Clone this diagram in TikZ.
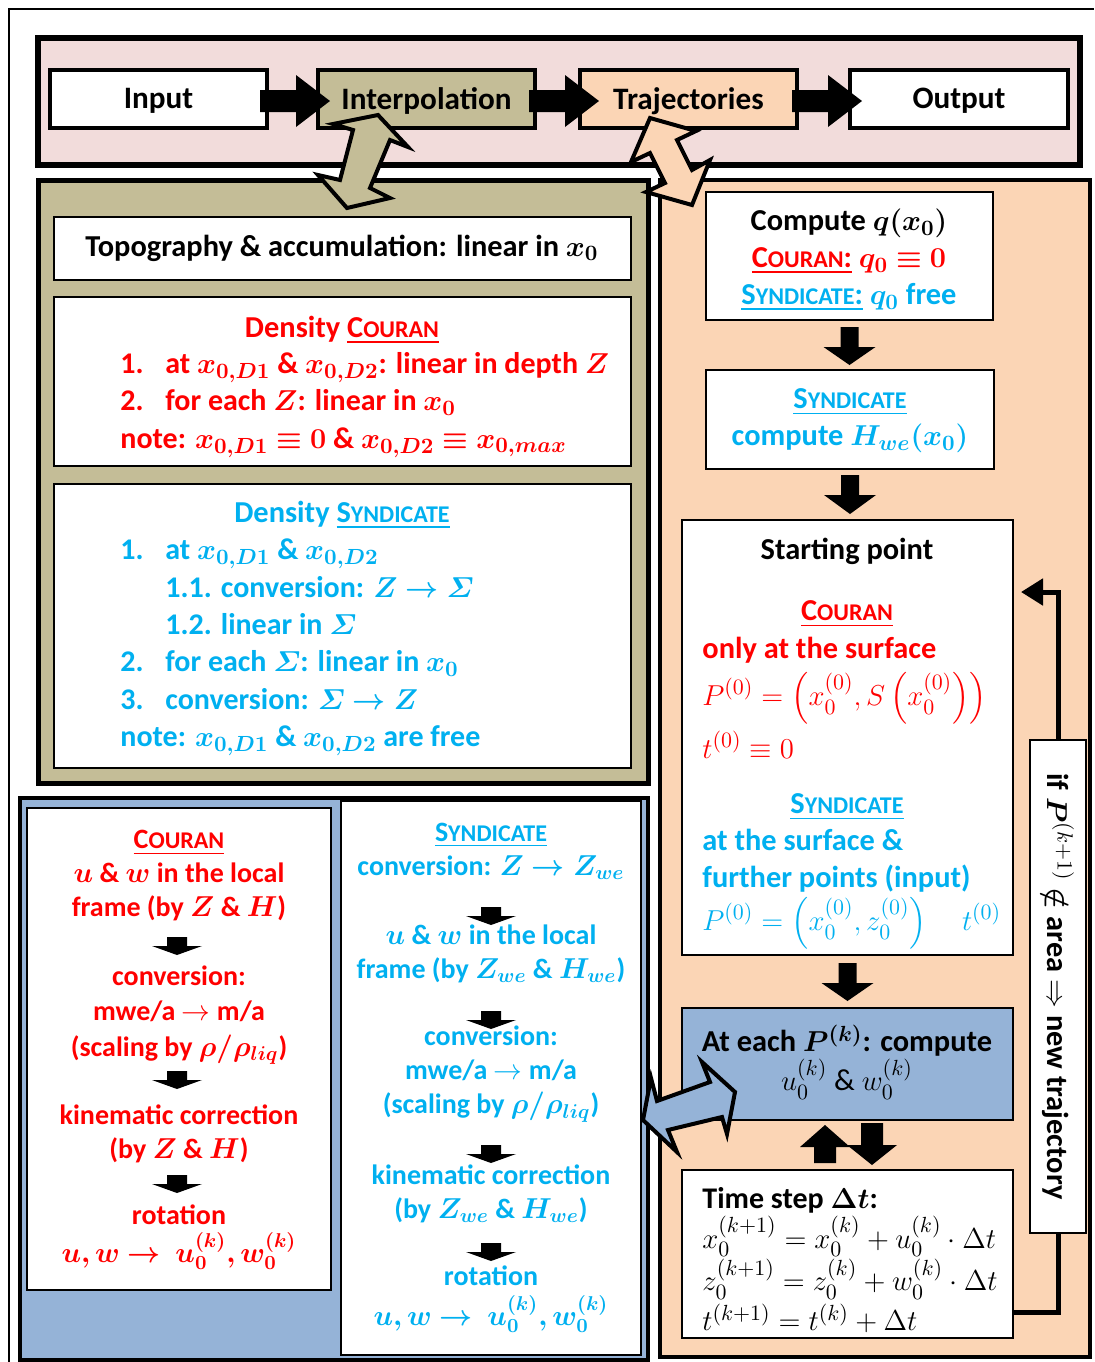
\documentclass[tikz,border=0pt]{standalone}
\usepackage{amsmath,bm}
\usepackage[no-math]{fontspec}
\setmainfont{Carlito}
\usetikzlibrary{fit,calc,arrows.meta}
\definecolor{couranred}{HTML}{FF0000}
\definecolor{syndblue}{HTML}{00B0F0}
\definecolor{bandpink}{HTML}{F2DCDB}
\definecolor{interpolive}{HTML}{C4BD97}
\definecolor{trajpeach}{HTML}{FBD5B5}
\definecolor{velblue}{HTML}{95B3D7}
\newcommand\bodysize{\fontsize{15.2}{18.5}\selectfont}
\newcommand\listsize{\fontsize{15}{18.7}\selectfont}
\newcommand\flowsize{\fontsize{14}{17}\selectfont}
\newcommand\scx[1]{{\fontsize{12}{14}\selectfont #1}}
\newcommand\couranname{C\scx{OURAN}}
\newcommand\syndname{S\scx{YNDICATE}}
\tikzset{
  pics/blockarrow/.style args={#1/#2/#3/#4}{code={
    \fill[black] (-#1,0) -- (#1,0) -- (#1,#3) -- (#2,#3) -- (0,#3+#4)
      -- (-#2,#3) -- (-#1,#3) -- cycle;
  }}
}
\begin{document}
\begin{tikzpicture}[x=0.5pt, y=-0.5pt,
    panel/.style={draw, line width=2.5pt, inner sep=0pt},
    wbox/.style={draw, line width=1pt, fill=white, inner sep=0pt},
    topbox/.style={draw, line width=2pt, inner sep=0pt},
    toplbl/.style={font=\fontsize{15.6}{18}\selectfont\bfseries, inner sep=0pt},
    txt/.style={font=\bodysize\bfseries, align=center, inner sep=0pt},
    ltxt/.style={txt, align=left, anchor=west},
    flow/.style={font=\flowsize\bfseries, align=center, inner sep=0pt},
    cou/.style={text=couranred},
    syn/.style={text=syndblue},
    dblarrow/.style={draw, line width=2pt, line join=miter},
    loopline/.style={line width=2.5pt, line join=miter,
                     -{Triangle[length=11pt, width=13pt]}},
  ]
  \useasboundingbox (0,0) rectangle (1094,1362);
  \draw[line width=1.2pt] (9,1362) -- (9,9) -- (1094,9);

  % main sequence
  \node[panel, line width=3pt, fill=bandpink, fit={(38,38) (1080,165)}] (band) {};
  \node[topbox, fill=white,       fit={(50,70) (267,128)}]   (input)  {};
  \node[topbox, fill=interpolive, fit={(318,70) (535,128)}]  (interp) {};
  \node[topbox, fill=trajpeach,   fit={(580,70) (797,128)}]  (traj)   {};
  \node[topbox, fill=white,       fit={(850,70) (1068,128)}] (output) {};
  \node[toplbl] (inputlbl)  at ([yshift=-1pt]input.center)  {Input};
  \node[toplbl] (interplbl) at ([yshift=-1pt]interp.center) {Interpolation};
  \node[toplbl] (trajlbl)   at ([yshift=-1pt]traj.center)   {Trajectories};
  \node[toplbl] (outputlbl) at ([yshift=-1pt]output.center) {Output};
  \pic[rotate=90] at ($(input.east)+(-9,2)$)  {blockarrow={11/26/36/34}};
  \pic[rotate=90] at ($(interp.east)+(-8,2)$) {blockarrow={11/26/36/34}};
  \pic[rotate=90] at ($(traj.east)+(-7,2)$)   {blockarrow={11/26/36/34}};

  % interpolation
  \node[panel, fill=interpolive, fit={(38,180) (648,783)}] (intpanel) {};
  \node[wbox, fit={(54,217) (631,280)}] (topo) {};
  \node[txt] (topotxt) at (342,248) {Topography \& accumulation: linear in $\bm{x_0}$};
  \node[wbox, fit={(54,297) (631,466)}] (dcou) {};
  \node[txt, cou] (dcoutitle) at (342,330) {Density \underline{\couranname}};
  \node[ltxt, cou, font=\listsize\bfseries] (dcoulist) at (120,405)
    {\makebox[22.5pt][l]{1.}at $\bm{x_{0,D1}}$ \& $\bm{x_{0,D2}}$: linear in depth $\bm{Z}$\\
     \makebox[22.5pt][l]{2.}for each $\bm{Z}$: linear in $\bm{x_0}$\\
     note: $\bm{x_{0,D1}\equiv 0}$ \& $\bm{x_{0,D2}\equiv x_{0,max}}$};
  \node[wbox, fit={(54,484) (631,768)}] (dsyn) {};
  \node[txt, syn] (dsyntitle) at (342,515) {Density \underline{\syndname}};
  \node[ltxt, syn, font=\listsize\bfseries] (dsynlist) at (120,647.5)
    {\makebox[22.5pt][l]{1.}at $\bm{x_{0,D1}}$ \& $\bm{x_{0,D2}}$\\
     \hspace*{22.5pt}1.1. conversion: $\bm{Z\rightarrow\varSigma}$\\
     \hspace*{22.5pt}1.2. linear in $\bm{\varSigma}$\\
     \makebox[22.5pt][l]{2.}for each $\bm{\varSigma}$: linear in $\bm{x_0}$\\
     \makebox[22.5pt][l]{3.}conversion: $\bm{\varSigma\rightarrow Z}$\\
     note: $\bm{x_{0,D1}}$ \& $\bm{x_{0,D2}}$ are free};

  % trajectories
  \node[panel, line width=2pt, fill=trajpeach, fit={(660,180) (1090,1357)}] (trajpanel) {};
  \node[wbox, fit={(706,192) (993,320)}] (qbox) {};
  \node[txt] (qtxt) at (849,260)
    {Compute $\bm{q(x_0)}$\\
     \textcolor{couranred}{\underline{\couranname:} $\bm{q_0\equiv 0}$}\\
     \textcolor{syndblue}{\underline{\syndname:} $\bm{q_0}$ free}};
  \node[wbox, fit={(706,370) (994,469)}] (hbox) {};
  \node[txt, syn] (htxt) at (850,421) {\underline{\syndname}\\ compute $\bm{H_{we}(x_0)}$};
  \node[wbox, fit={(682,520) (1013,955)}] (start) {};
  \node[txt] (starttitle) at (847,551) {Starting point};
  \node[txt, cou] (coutitle) at (847,614) {\underline{\couranname}};
  \node[ltxt, cou] (cou1) at (702,650) {only at the surface};
  \node[ltxt, cou, font=\bodysize] (cou2) at (702,698)
    {$P^{(0)}=\left(x_0^{(0)},S\left(x_0^{(0)}\right)\right)$};
  \node[ltxt, cou, font=\bodysize] (cou3) at (702,745) {$t^{(0)}\equiv 0$};
  \node[txt, syn] (syntitle) at (847,807) {\underline{\syndname}};
  \node[ltxt, syn] (syn1) at (702,861) {at the surface \&\\ further points (input)};
  \node[ltxt, syn, font=\bodysize] (syn2) at (702,923)
    {$P^{(0)}=\left(x_0^{(0)},z_0^{(0)}\right)\quad t^{(0)}$};
  \node[wbox, fill=velblue, fit={(682,1008) (1013,1120)}] (velbox) {};
  \node[txt] (veltxt) at (847,1062)
    {At each $\bm{P^{(k)}}$: compute\\[1pt]
     {\mdseries $u_0^{(k)}$ \& $w_0^{(k)}$}};
  \node[wbox, fit={(682,1170) (1013,1338)}] (tstep) {};
  \node[ltxt, font=\fontsize{15}{20}\selectfont\bfseries] (tsteptxt) at (702,1260)
    {Time step $\bm{\Delta t}$:\\
     $x_0^{(k+1)}=x_0^{(k)}+u_0^{(k)}\cdot\Delta t$\\
     $z_0^{(k+1)}=z_0^{(k)}+w_0^{(k)}\cdot\Delta t$\\
     $t^{(k+1)}=t^{(k)}+\Delta t$};
  \pic at ([yshift=-3pt]qbox.south) {blockarrow={9/26/20/18}};
  \pic at ([yshift=-2.5pt]hbox.south) {blockarrow={9/26/20/19}};
  \pic at ([yshift=-3.5pt]start.south) {blockarrow={9/26/20/18}};
  \pic[rotate=180] at (825,1163) {blockarrow={11/25/16/22}};
  \pic at (872,1123) {blockarrow={11/25/22/20}};
  \coordinate (loopbot) at (1058,1312);
  \coordinate (looptop) at (1058,592);
  \draw[loopline, shorten >=3.5pt] (tstep.east |- loopbot) -- (loopbot) -- (looptop)
    -- (start.east |- looptop);
  \node[wbox, fit={(1030,740) (1086,1233)}] (exitbox) {};
  \node[txt, rotate=-90] (exittxt) at (exitbox.center)
    {if $\bm{P}^{(k+1)}$ $\bm{\notin}$ area $\Rightarrow$ new trajectory};

  % velocities
  \node[panel, line width=2pt, fill=velblue, fit={(20,798) (648,1360)}] (velpanel) {};
  \node[wbox, fit={(27,808) (331,1290)}] (vcou) {};
  \node[flow, cou] (cv1) at (179,876)
    {\underline{\couranname}\\ $\bm{u}$ \& $\bm{w}$ in the local\\ frame (by $\bm{Z}$ \& $\bm{H}$)};
  \node[flow, cou, font=\fontsize{14}{17.7}\selectfont\bfseries] (cv2) at (179,1015)
    {conversion:\\ mwe/a $\rightarrow$ m/a\\ (scaling by $\bm{\rho/\rho_{liq}}$)};
  \node[flow, cou] (cv3) at (179,1133.5) {kinematic correction\\ (by $\bm{Z}$ \& $\bm{H}$)};
  \node[flow, cou] (cv4) at (179,1237)
    {rotation\\[2pt] $\bm{u,w\rightarrow\ u_0^{(k)},w_0^{(k)}}$};
  \pic at (177,937)  {blockarrow={10/25/9/9}};
  \pic at (177,1071) {blockarrow={10/25/9/9}};
  \pic at (177,1175) {blockarrow={10/25/9/9}};
  \node[wbox, fit={(341,801) (641,1355)}] (vsyn) {};
  \node[flow, syn] (sv1) at (491,851) {\underline{\syndname}\\ conversion: $\bm{Z\rightarrow Z_{we}}$};
  \node[flow, syn] (sv2) at (491,954)
    {$\bm{u}$ \& $\bm{w}$ in the local\\ frame (by $\bm{Z_{we}}$ \& $\bm{H_{we}}$)};
  \node[flow, syn] (sv3) at (491,1074)
    {conversion:\\ mwe/a $\rightarrow$ m/a\\ (scaling by $\bm{\rho/\rho_{liq}}$)};
  \node[flow, syn] (sv4) at (491,1194)
    {kinematic correction\\ (by $\bm{Z_{we}}$ \& $\bm{H_{we}}$)};
  \node[flow, syn] (sv5) at (491,1299)
    {rotation\\[3pt] $\bm{u,w\rightarrow\ u_0^{(k)},w_0^{(k)}}$};
  \pic at (491,907)  {blockarrow={10/25/9/9}};
  \pic at (491,1011) {blockarrow={10/25/9/9}};
  \pic at (491,1145) {blockarrow={10/25/9/9}};
  \pic at (491,1243) {blockarrow={10/25/9/9}};

  % links between the stages
  \draw[dblarrow, fill=interpolive] (378,115) -- (408,147) -- (390,140) -- (370,188)
    -- (390,198) -- (347,208) -- (318,175) -- (340,180) -- (353,130) -- (333,124) -- cycle;
  \draw[dblarrow, fill=trajpeach] (650,118) -- (696,131) -- (677,140) -- (692,170)
    -- (710,160) -- (692,205) -- (646,192) -- (665,183) -- (650,153) -- (631,162) -- cycle;
  \draw[dblarrow, fill=velblue] (643,1120) -- (651,1078) -- (657,1101) -- (710,1082)
    -- (702,1062) -- (735,1092) -- (727,1134) -- (722,1117) -- (668,1130) -- (677,1152) -- cycle;
\end{tikzpicture}
\end{document}
